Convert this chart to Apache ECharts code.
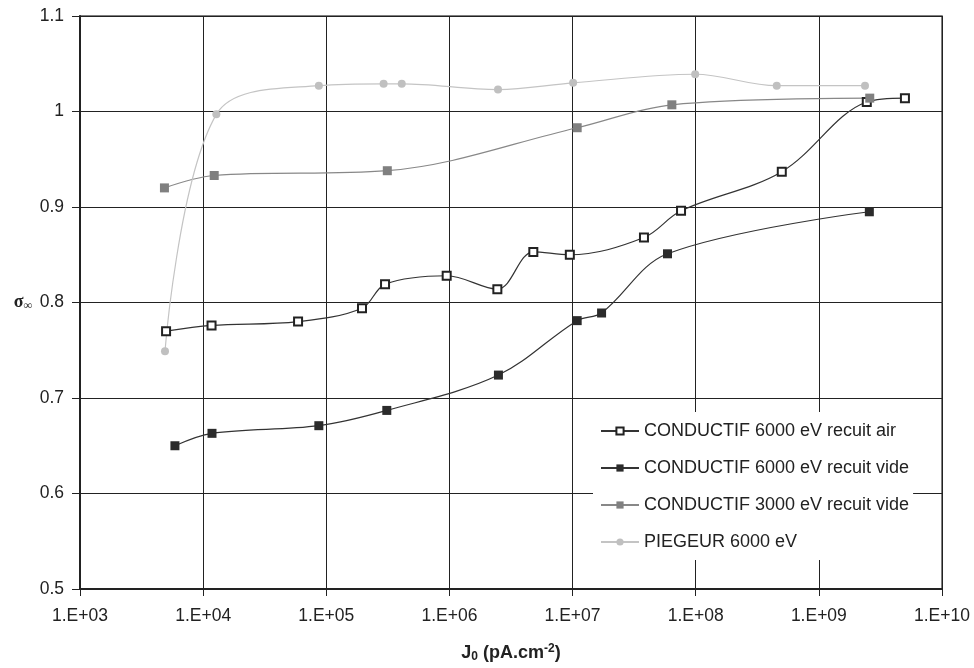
<!DOCTYPE html>
<html>
<head>
<meta charset="utf-8">
<script src="https://cdn.jsdelivr.net/npm/echarts@6/dist/echarts.min.js"></script>
<style>
html,body{margin:0;padding:0;background:#fff;}
#main{width:974px;height:668px;}
</style>
</head>
<body>
<div id="main"></div>
<script>
// ---- data ----
const seriesNames = [
  'CONDUCTIF 6000 eV recuit air',
  'CONDUCTIF 6000 eV recuit vide',
  'CONDUCTIF 3000 eV recuit vide',
  'PIEGEUR 6000 eV'
];
const airX = [5.0e3, 1.17e4, 5.9e4, 1.95e5, 3.0e5, 9.5e5, 2.45e6, 4.8e6, 9.5e6, 3.8e7, 7.6e7, 5.0e8, 2.45e9, 5.0e9];
const airY = [0.770, 0.776, 0.780, 0.794, 0.819, 0.828, 0.814, 0.853, 0.850, 0.868, 0.896, 0.937, 1.010, 1.014];
const videX = [5.9e3, 1.18e4, 8.7e4, 3.1e5, 2.5e6, 1.09e7, 1.72e7, 5.9e7, 2.57e9];
const videY = [0.650, 0.663, 0.671, 0.687, 0.724, 0.781, 0.789, 0.851, 0.895];
const v3000X = [4.85e3, 1.23e4, 3.13e5, 1.09e7, 6.4e7, 2.59e9];
const v3000Y = [0.920, 0.933, 0.938, 0.983, 1.007, 1.014];
const piegX = [4.9e3, 1.28e4, 8.7e4, 2.92e5, 4.1e5, 2.48e6, 1.01e7, 9.9e7, 4.55e8, 2.37e9];
const piegY = [0.749, 0.997, 1.027, 1.029, 1.029, 1.023, 1.030, 1.039, 1.027, 1.027];
const xMin = 1e3, xMax = 1e10;
const yMin = 0.5, yMax = 1.1, yStep = 0.1;

function pairs(xs, ys){ return xs.map((x,i)=>[x, ys[i]]); }

const FONT = '"Liberation Sans", Arial, sans-serif';
const chart = echarts.init(document.getElementById('main'), null, {renderer:'canvas'});

const smooth = 0.35;
chart.setOption({
  animation: false,
  backgroundColor: '#fff',
  textStyle: {fontFamily: FONT},
  grid: {left: 80, right: 32, top: 16, bottom: 76, show: true, borderColor: '#555', borderWidth: 1.5, backgroundColor: 'transparent'},
  legend: {
    orient: 'vertical',
    left: 593, top: 412,
    backgroundColor: '#fff',
    padding: [10, 4, 9, 7],
    itemWidth: 38, itemHeight: 9, itemGap: 19,
    textStyle: {fontFamily: FONT, fontSize: 18, color: '#222'},
    data: seriesNames
  },
  xAxis: {
    type: 'log', logBase: 10, min: xMin, max: xMax, splitNumber: 7,
    axisLine: {show: true, onZero: false, lineStyle: {color: '#222', width: 2}},
    axisTick: {show: true, length: 7, lineStyle: {color: '#222', width: 1}},
    minorTick: {show: false},
    axisLabel: {
      fontFamily: FONT, fontSize: 17.5, color: '#222', margin: 18,
      formatter: v => '1.E+' + String(Math.round(Math.log10(v))).padStart(2, '0')
    },
    splitLine: {show: true, lineStyle: {color: '#222', width: 1}},
    name: '{b|J}{sub|0}{b| (pA.cm}{sup|-2}{b|)}',
    nameLocation: 'middle', nameGap: 54,
    nameTextStyle: {
      rich: {
        b: {fontFamily: FONT, fontSize: 18, fontWeight: 'bold', color: '#222'},
        sub: {fontFamily: FONT, fontSize: 12, fontWeight: 'bold', color: '#222', verticalAlign: 'bottom', padding: [8,0,0,0]},
        sup: {fontFamily: FONT, fontSize: 12, fontWeight: 'bold', color: '#222', verticalAlign: 'top', padding: [0,0,8,0]}
      }
    }
  },
  yAxis: {
    type: 'value', min: yMin, max: yMax, interval: yStep,
    axisLine: {show: true, onZero: false, lineStyle: {color: '#222', width: 2}},
    axisTick: {show: true, length: 8, lineStyle: {color: '#222', width: 1}},
    axisLabel: {
      fontFamily: FONT, fontSize: 17.5, color: '#222', margin: 16,
      formatter: v => String(Math.round(v * 10) / 10)
    },
    splitLine: {show: true, lineStyle: {color: '#222', width: 1}},
    name: '{s|σ}{i|∞}',
    nameLocation: 'middle', nameRotate: 0, nameGap: 48,
    nameTextStyle: {
      align: 'right',
      rich: {
        s: {fontFamily: '"Liberation Serif", serif', fontSize: 18, fontWeight: 'bold', color: '#222'},
        i: {fontFamily: '"Liberation Serif", serif', fontSize: 12, fontWeight: 'bold', color: '#222', verticalAlign: 'bottom', padding: [6,0,0,0]}
      }
    }
  },
  series: [
    {
      name: seriesNames[0], type: 'line', smooth: smooth, data: pairs(airX, airY),
      symbol: 'rect', symbolSize: 8, showAllSymbol: true,
      itemStyle: {color: '#fff', borderColor: '#222', borderWidth: 2},
      lineStyle: {color: '#333', width: 1.2}
    },
    {
      name: seriesNames[1], type: 'line', smooth: smooth, data: pairs(videX, videY),
      symbol: 'rect', symbolSize: 9, showAllSymbol: true,
      itemStyle: {color: '#2b2b2b'},
      lineStyle: {color: '#333', width: 1.2}
    },
    {
      name: seriesNames[2], type: 'line', smooth: smooth, data: pairs(v3000X, v3000Y),
      symbol: 'rect', symbolSize: 9, showAllSymbol: true,
      itemStyle: {color: '#808080'},
      lineStyle: {color: '#888', width: 1.2}
    },
    {
      name: seriesNames[3], type: 'line', smooth: smooth, data: pairs(piegX, piegY),
      symbol: 'circle', symbolSize: 8, showAllSymbol: true,
      itemStyle: {color: '#c0c0c0'},
      lineStyle: {color: '#c4c4c4', width: 1.2}
    }
  ]
});
</script>
</body>
</html>
